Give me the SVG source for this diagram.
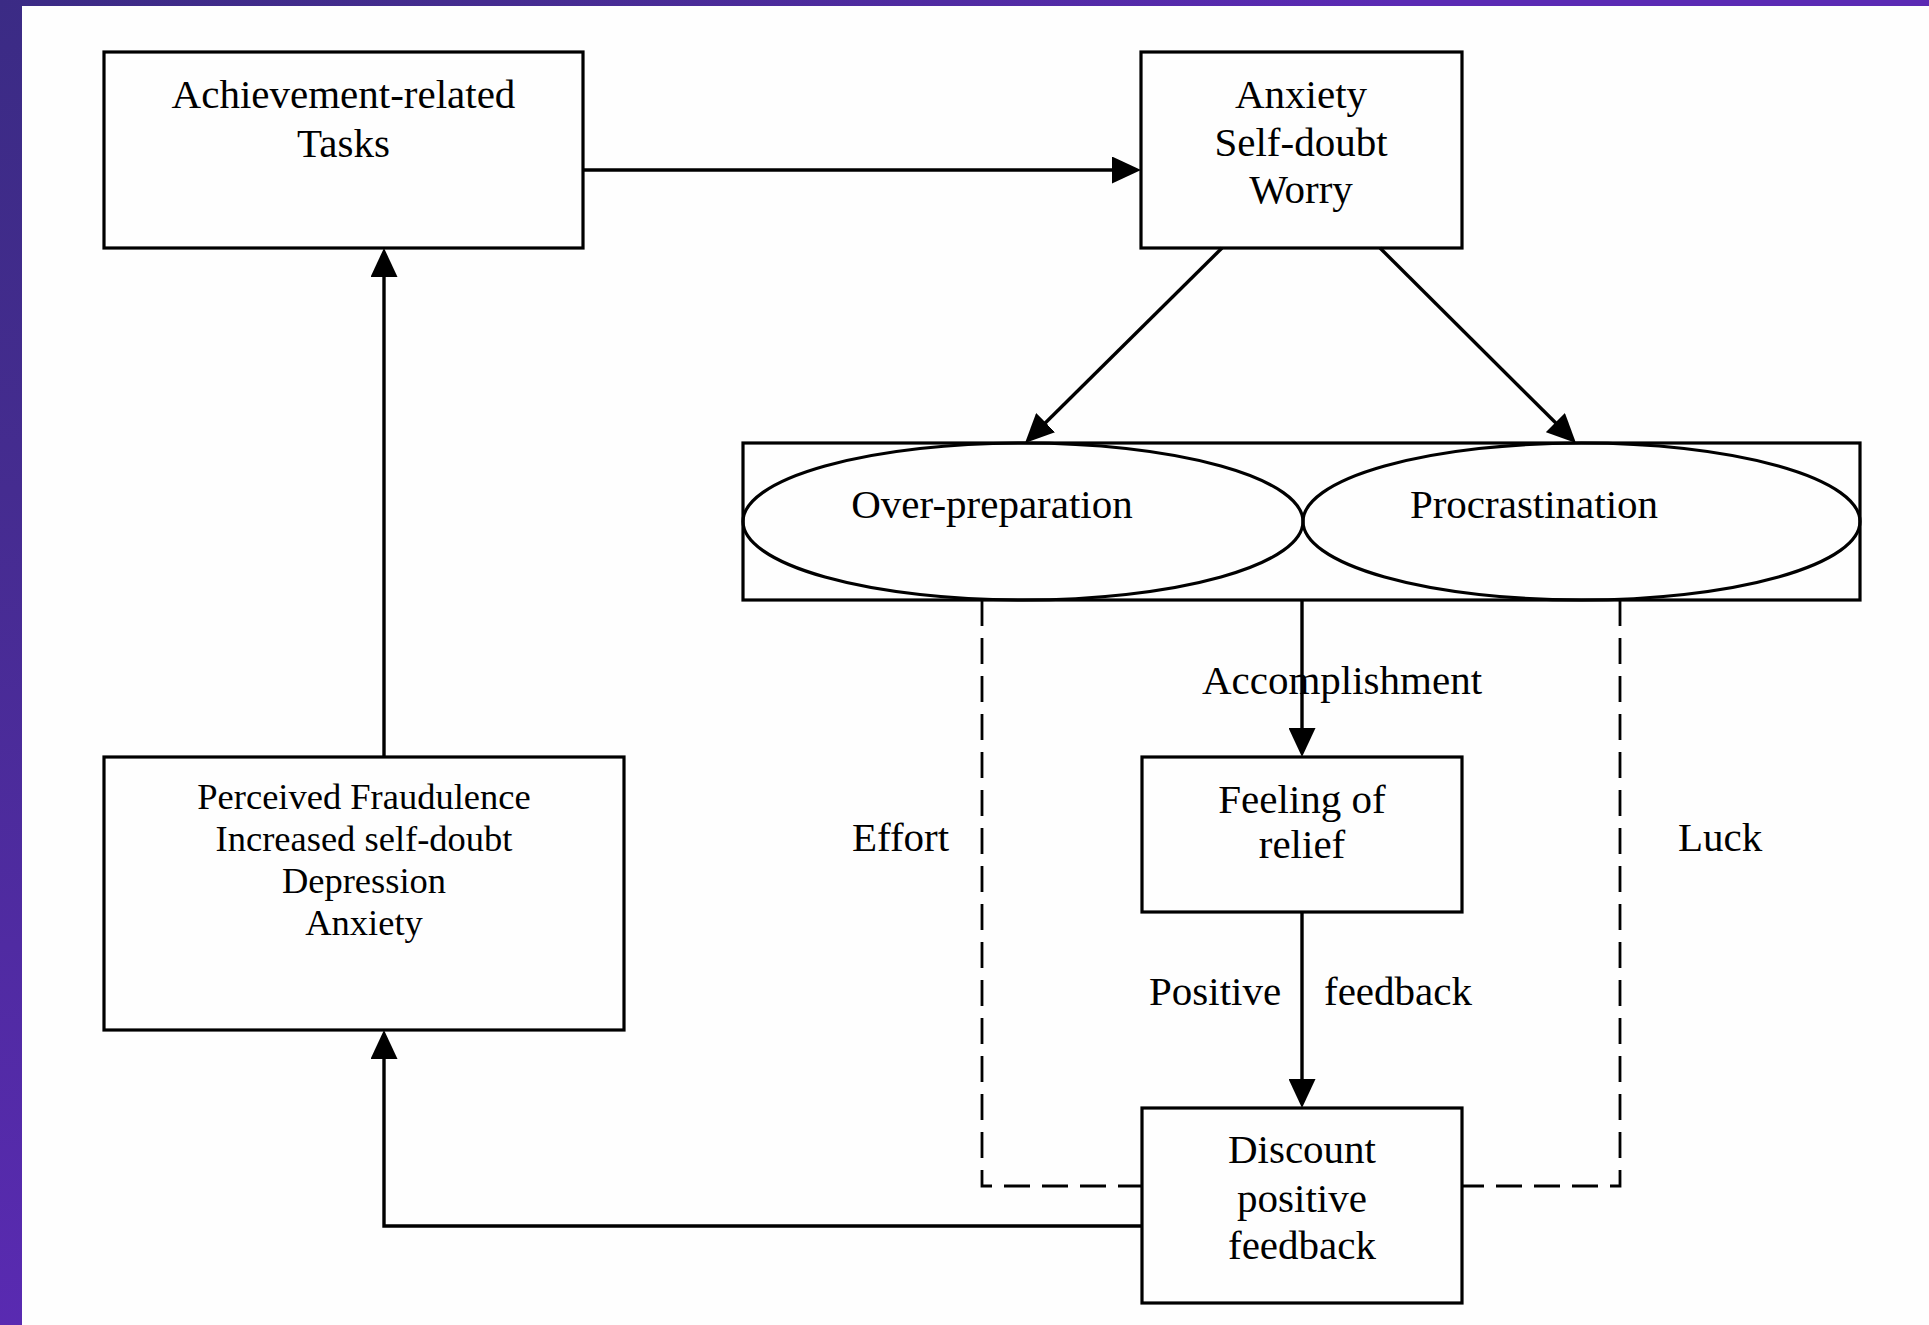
<svg xmlns="http://www.w3.org/2000/svg" width="1929" height="1325" viewBox="0 0 1929 1325">
<style>
text{font-family:"Liberation Serif","Times New Roman",serif;font-size:41px;fill:#000}
.c{text-anchor:middle}
.s{font-size:36.5px}
.box{fill:none;stroke:#000;stroke-width:3.2}
.ln{fill:none;stroke:#000;stroke-width:3.4}
.dash{fill:none;stroke:#000;stroke-width:2.8;stroke-dasharray:26 12}
</style>
<defs>
<radialGradient id="bg" cx="0" cy="0" r="1400" gradientUnits="userSpaceOnUse">
<stop offset="0" stop-color="#3b2b85"/>
<stop offset="0.35" stop-color="#452c90"/>
<stop offset="1" stop-color="#5b2ab4"/>
</radialGradient>
<marker id="ah" markerUnits="userSpaceOnUse" markerWidth="29" markerHeight="27" refX="23" refY="13.5" orient="auto" viewBox="0 0 29 27">
<path d="M0,0 L29,13.5 L0,27 z" fill="#000"/>
</marker>
</defs>
<rect x="0" y="0" width="1929" height="1325" fill="url(#bg)"/>
<rect x="22" y="6" width="1907" height="1319" fill="#fefefe"/>

<g id="connectors">
<path class="ln" d="M583,170 H1135" marker-end="url(#ah)"/>
<path class="ln" d="M1222,248 L1029.3,438.8" marker-end="url(#ah)"/>
<path class="ln" d="M1380,248 L1571.7,438.8" marker-end="url(#ah)"/>
<path class="ln" d="M1302,600 V751" marker-end="url(#ah)"/>
<path class="ln" d="M1302,912 V1102" marker-end="url(#ah)"/>
<path class="ln" d="M1142,1226 H384 V1036" marker-end="url(#ah)"/>
<path class="ln" d="M384,757 V254" marker-end="url(#ah)"/>
<path class="dash" d="M982,600 V1186 H1142"/>
<path class="dash" d="M1620,600 V1186 H1462"/>
<text x="1342" y="694" class="c">Accomplishment</text>
<text x="852" y="851">Effort</text>
<text x="1678" y="851">Luck</text>
<text x="1149" y="1005">Positive</text>
<text x="1324" y="1005">feedback</text>
</g>

<g id="achievement-tasks">
<rect class="box" x="104" y="52" width="479" height="196"/>
<text x="343.5" y="108" class="c">Achievement-related</text>
<text x="343.5" y="157" class="c">Tasks</text>
</g>

<g id="anxiety">
<rect class="box" x="1141" y="52" width="321" height="196"/>
<text x="1301" y="108" class="c">Anxiety</text>
<text x="1301" y="156" class="c">Self-doubt</text>
<text x="1301" y="203" class="c">Worry</text>
</g>

<g id="behaviours">
<rect class="box" x="743" y="443" width="1117" height="157"/>
<g id="over-preparation">
<ellipse class="box" cx="1023" cy="521.5" rx="280" ry="78.5"/>
<text x="992" y="518" class="c">Over-preparation</text>
</g>
<g id="procrastination">
<ellipse class="box" cx="1581.5" cy="521.5" rx="278.5" ry="78.5"/>
<text x="1534" y="518" class="c">Procrastination</text>
</g>
</g>

<g id="feeling-relief">
<rect class="box" x="1142" y="757" width="320" height="155"/>
<text x="1302" y="813" class="c">Feeling of</text>
<text x="1302" y="858" class="c">relief</text>
</g>

<g id="discount-feedback">
<rect class="box" x="1142" y="1108" width="320" height="195"/>
<text x="1302" y="1163" class="c">Discount</text>
<text x="1302" y="1212" class="c">positive</text>
<text x="1302" y="1259" class="c">feedback</text>
</g>

<g id="perceived-fraudulence">
<rect class="box" x="104" y="757" width="520" height="273"/>
<text x="364" y="809" class="c s">Perceived Fraudulence</text>
<text x="364" y="851" class="c s">Increased self-doubt</text>
<text x="364" y="893" class="c s">Depression</text>
<text x="364" y="935" class="c s">Anxiety</text>
</g>
</svg>
